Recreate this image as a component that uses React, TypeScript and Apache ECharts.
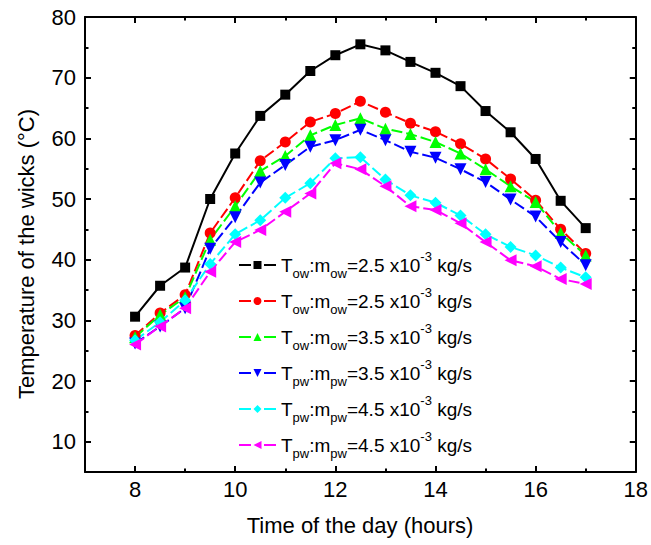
import React, { useEffect, useRef } from 'react';
import * as echarts from 'echarts';

const hours = [8, 8.5, 9, 9.5, 10, 10.5, 11, 11.5, 12, 12.5, 13, 13.5, 14, 14.5, 15, 15.5, 16, 16.5, 17];

const towLowA = [30.6, 35.7, 38.7, 50.0, 57.5, 63.7, 67.2, 71.1, 73.7, 75.5, 74.5, 72.6, 70.8, 68.6, 64.5, 61.0, 56.6, 49.7, 45.2];
const towLowB = [27.5, 31.2, 34.2, 44.4, 50.2, 56.3, 59.4, 62.7, 64.1, 66.1, 64.3, 62.5, 61.1, 59.1, 56.6, 53.3, 49.8, 45.0, 41.0];
const towMid = [27.2, 30.9, 33.8, 43.3, 48.8, 54.6, 57.1, 60.5, 62.2, 63.3, 61.6, 60.7, 59.4, 57.5, 54.9, 52.1, 49.5, 44.4, 40.7];
const tpwMid = [26.2, 29.0, 32.0, 41.8, 47.0, 52.7, 55.6, 58.6, 59.7, 61.4, 59.7, 57.8, 56.8, 54.9, 52.8, 49.9, 47.1, 42.9, 39.1];
const tpwHighA = [26.7, 29.7, 33.3, 39.3, 44.2, 46.5, 50.2, 52.6, 56.7, 56.9, 53.2, 50.6, 49.4, 47.3, 44.2, 42.1, 40.7, 38.7, 37.1];
const tpwHighB = [26.0, 29.0, 32.0, 38.0, 42.9, 44.9, 47.9, 50.9, 55.9, 54.9, 52.1, 48.8, 48.2, 46.0, 42.9, 39.9, 38.9, 36.8, 36.0];

const xMajorTicks = [8, 10, 12, 14, 16, 18];
const xMinorTicks = [9, 11, 13, 15, 17];
const yMajorTicks = [10, 20, 30, 40, 50, 60, 70, 80];
const yMinorTicks = [15, 25, 35, 45, 55, 65, 75];

const seriesKeys = ['s1', 's2', 's3', 's4', 's5', 's6'];
const legendLabels = [
  '{m|T}{sub|ow}{m|:m}{sub|ow}{m|=2.5 x10}{sup|-3}{m| kg/s}',
  '{m|T}{sub|ow}{m|:m}{sub|ow}{m|=2.5 x10}{sup|-3}{m| kg/s}',
  '{m|T}{sub|ow}{m|:m}{sub|ow}{m|=3.5 x10}{sup|-3}{m| kg/s}',
  '{m|T}{sub|pw}{m|:m}{sub|pw}{m|=3.5 x10}{sup|-3}{m| kg/s}',
  '{m|T}{sub|pw}{m|:m}{sub|pw}{m|=4.5 x10}{sup|-3}{m| kg/s}',
  '{m|T}{sub|pw}{m|:m}{sub|pw}{m|=4.5 x10}{sup|-3}{m| kg/s}',
];
const seriesData = [towLowA, towLowB, towMid, tpwMid, tpwHighA, tpwHighB];
const colors = ['#000000', '#ff0000', '#00ff00', '#0000ff', '#00ffff', '#ff00ff'];
const symbols = ['rect', 'circle', 'triangle', 'triangle', 'diamond', 'triangle'];
const symbolRotates = [0, 0, 0, 180, 0, 90];
const symbolSizes = [10, 11, 12, 12, 12, 12];
const lineTypes: any[] = ['solid', [11, 4], [11, 4], [11, 4], [11, 4], [11, 4]];

const FONT = '"Liberation Sans", Arial, sans-serif';

export default function App() {
  const ref = useRef<HTMLDivElement>(null);
  useEffect(() => {
    if (!ref.current) return;
    const chart = echarts.init(ref.current, undefined, { renderer: 'svg' });
    const axisLine = { show: true, onZero: false, lineStyle: { color: '#000', width: 2 } };
    const xBase = { type: 'value', min: 7, max: 18, splitLine: { show: false }, gridIndex: 0 };
    const yBase = { type: 'value', min: 5, max: 80, splitLine: { show: false }, gridIndex: 0 };
    const labelStyle = { color: '#000', fontSize: 22, fontFamily: FONT };
    const option: any = {
      animation: false,
      backgroundColor: '#fff',
      grid: { left: 85, right: 11, top: 17, bottom: 73, containLabel: false },
      xAxis: [
        {
          ...xBase, position: 'bottom', axisLine,
          axisTick: { show: true, inside: true, length: 6, lineStyle: { color: '#000', width: 2 }, customValues: xMajorTicks },
          axisLabel: { show: true, margin: 6, ...labelStyle, customValues: xMajorTicks, showMaxLabel: true, showMinLabel: true },
        },
        {
          ...xBase, position: 'bottom', axisLine: { show: false },
          axisTick: { show: true, inside: true, length: 3.5, lineStyle: { color: '#000', width: 2 }, customValues: xMinorTicks },
          axisLabel: { show: false },
        },
        {
          ...xBase, position: 'top', axisLine,
          axisTick: { show: true, inside: true, length: 6, lineStyle: { color: '#000', width: 2 }, customValues: xMajorTicks },
          axisLabel: { show: false },
        },
        {
          ...xBase, position: 'top', axisLine: { show: false },
          axisTick: { show: true, inside: true, length: 3.5, lineStyle: { color: '#000', width: 2 }, customValues: xMinorTicks },
          axisLabel: { show: false },
        },
      ],
      yAxis: [
        {
          ...yBase, position: 'left', axisLine,
          axisTick: { show: true, inside: true, length: 6, lineStyle: { color: '#000', width: 2 }, customValues: yMajorTicks },
          axisLabel: { show: true, margin: 9, ...labelStyle, customValues: yMajorTicks },
        },
        {
          ...yBase, position: 'left', axisLine: { show: false },
          axisTick: { show: true, inside: true, length: 3.5, lineStyle: { color: '#000', width: 2 }, customValues: yMinorTicks },
          axisLabel: { show: false },
        },
        {
          ...yBase, position: 'right', axisLine,
          axisTick: { show: true, inside: true, length: 6, lineStyle: { color: '#000', width: 2 }, customValues: yMajorTicks },
          axisLabel: { show: false },
        },
        {
          ...yBase, position: 'right', axisLine: { show: false },
          axisTick: { show: true, inside: true, length: 3.5, lineStyle: { color: '#000', width: 2 }, customValues: yMinorTicks },
          axisLabel: { show: false },
        },
      ],
      legend: {
        orient: 'vertical',
        left: 238,
        top: 250,
        padding: 0,
        itemGap: 6,
        itemWidth: 37,
        itemHeight: 10,
        selectedMode: false,
        data: seriesKeys,
        formatter: (name: string) => legendLabels[seriesKeys.indexOf(name)],
        lineStyle: { type: [12, 13], width: 2 },
        textStyle: {
          color: '#000',
          fontFamily: FONT,
          fontSize: 19,
          rich: {
            m: { fontSize: 19, fontFamily: FONT, color: '#000', lineHeight: 30 },
            sub: { fontSize: 13, fontFamily: FONT, color: '#000', lineHeight: 14, verticalAlign: 'bottom' },
            sup: { fontSize: 13, fontFamily: FONT, color: '#000', lineHeight: 14, verticalAlign: 'top' },
          },
        },
      },
      graphic: [
        {
          type: 'text', x: 26, y: 254, rotation: Math.PI / 2,
          style: {
            text: 'Temperature of the wicks (°C)', fill: '#000', fontSize: 22, fontFamily: FONT,
            align: 'center', verticalAlign: 'middle', textAlign: 'center', textVerticalAlign: 'middle',
          },
        },
        {
          type: 'text', x: 360, y: 525,
          style: {
            text: 'Time of the day (hours)', fill: '#000', fontSize: 22, fontFamily: FONT,
            align: 'center', verticalAlign: 'middle', textAlign: 'center', textVerticalAlign: 'middle',
          },
        },
      ],
      series: seriesKeys.map((key, i) => ({
        name: key,
        type: 'line',
        xAxisIndex: 0,
        yAxisIndex: 0,
        data: hours.map((h, j) => [h, seriesData[i][j]]),
        symbol: symbols[i],
        symbolSize: symbolSizes[i],
        symbolRotate: symbolRotates[i],
        showAllSymbol: true,
        lineStyle: { color: colors[i], width: 2, type: lineTypes[i] },
        itemStyle: { color: colors[i], borderWidth: 0 },
        emphasis: { disabled: true },
      })),
    };
    chart.setOption(option);
    return () => chart.dispose();
  }, []);
  return <div ref={ref} style={{ position: 'fixed', left: 0, top: 0, width: 651, height: 545, background: '#fff' }} />;
}
